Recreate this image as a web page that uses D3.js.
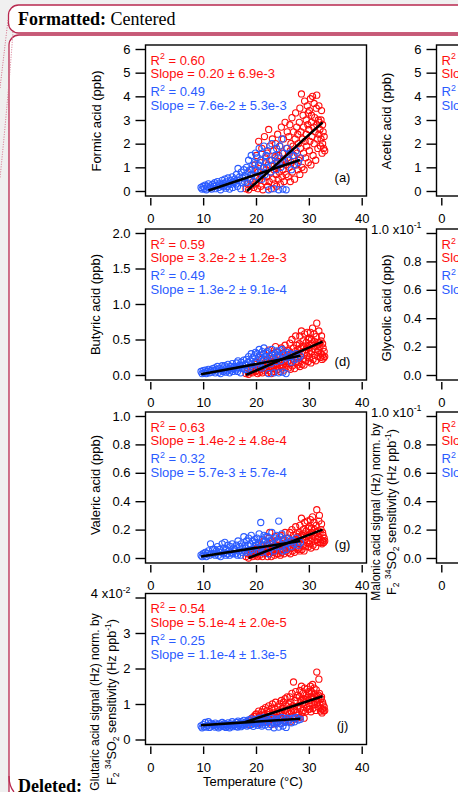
<!DOCTYPE html>
<html><head><meta charset="utf-8">
<script src="https://cdn.jsdelivr.net/npm/d3@7"></script>
<style>html,body{margin:0;padding:0;background:#f0f0f0;overflow:hidden}svg{display:block}</style>
</head><body><svg id="c" width="458" height="792"></svg>
<script>
// ---------------- DATA ----------------
const xTicks = [0, 10, 20, 30, 40];
const xTicksVisibleRightColumn = [0];
// temperatures (°C) of the warm (red) and cool (blue) periods
const tempRed = [
18.1,18.4,18.6,18.9,19.0,19.2,19.4,19.6,19.8,19.9,
20.0,20.1,20.3,20.4,20.5,20.7,20.8,20.9,21.1,21.2,21.3,21.5,21.6,21.7,21.8,21.9,
22.0,22.1,22.2,22.3,22.4,22.5,22.6,22.8,22.9,23.0,23.1,23.2,23.3,23.4,23.5,23.6,23.7,23.8,23.9,23.9,
24.0,24.1,24.2,24.3,24.4,24.5,24.6,24.7,24.8,24.9,25.0,25.1,25.2,25.3,25.4,25.5,25.6,25.7,25.8,25.9,
26.0,26.1,26.2,26.3,26.4,26.5,26.5,26.6,26.7,26.8,26.9,27.0,27.1,27.2,27.3,27.4,27.5,27.6,27.7,27.8,27.9,27.9,
28.0,28.1,28.2,28.3,28.3,28.4,28.5,28.6,28.7,28.8,28.9,29.0,29.0,29.1,29.2,29.3,29.4,29.5,29.5,29.6,29.7,29.8,29.9,29.9,
30.0,30.1,30.1,30.2,30.3,30.4,30.5,30.5,30.6,30.7,30.8,30.9,31.0,31.0,31.1,31.2,31.3,31.4,31.5,31.5,31.6,31.7,31.8,31.9,31.9,32.0,
32.1,32.2,32.3,32.3,32.4,32.5,32.6,32.6,32.7,32.8,32.9,33.0];
const tempBlue = [
9.6,9.8,10.0,10.2,10.4,10.6,10.8,11.0,11.2,11.4,11.6,11.8,
12.0,12.2,12.3,12.5,12.7,12.9,13.1,13.3,13.4,13.6,13.8,13.9,
14.0,14.1,14.3,14.4,14.6,14.7,14.9,15.0,15.2,15.3,15.5,15.6,15.8,15.9,
16.0,16.2,16.3,16.5,16.6,16.8,16.9,17.1,17.2,17.4,17.5,17.7,17.8,17.9,
18.0,18.2,18.3,18.5,18.6,18.8,18.9,19.1,19.2,19.4,19.5,19.7,19.8,19.9,
20.0,20.2,20.3,20.5,20.6,20.8,20.9,21.1,21.2,21.4,21.5,21.7,21.8,21.9,
22.0,22.2,22.4,22.6,22.8,23.0,23.2,23.4,23.6,23.8,23.9,24.0,
24.1,24.3,24.5,24.7,24.9,25.1,25.3,25.5,25.7,25.9,
26.1,26.4,26.7,27.0,27.3,27.6,28.0,28.4];

// (a) Formic acid (ppb)
const formicRed = [
0.1,0.3,0.05,0.5,0.2,0.9,0.4,0.15,1.1,0.6,
0.3,1.5,0.1,0.8,2.1,0.5,1.2,0.2,1.8,0.7,0.05,1.0,2.3,0.4,1.4,0.9,
0.6,1.6,0.2,1.1,2.6,0.4,1.9,0.8,0.1,1.3,2.2,0.5,1.7,0.9,0.3,1.4,2.0,0.7,1.2,0.2,
1.0,2.4,0.5,1.5,0.8,1.9,0.3,1.2,2.7,0.6,1.6,0.9,2.2,0.4,1.3,2.9,1.1,0.7,1.8,2.5,
1.4,0.6,2.3,1.0,2.8,1.7,0.4,2.0,1.2,3.1,0.8,1.9,2.5,1.5,0.5,2.2,3.3,1.1,2.7,1.6,0.9,2.4,
2.0,1.3,2.9,0.7,3.5,1.8,2.5,4.1,1.0,2.2,3.2,1.6,2.7,0.9,3.8,2.1,1.4,3.0,2.4,1.9,3.6,2.8,1.2,3.3,
2.6,1.7,3.4,2.1,3.9,1.1,2.9,3.2,2.3,4.0,1.5,2.7,3.7,2.0,3.1,2.5,1.3,3.5,2.8,4.05,2.2,1.8,3.0,3.6,2.4,2.9,
2.6,1.9,3.0,2.2,3.4,1.6,2.8,2.0,2.5,1.8,2.3,1.7];
const formicBlue = [
0.15,0.08,0.2,0.1,0.25,0.05,0.18,0.3,0.12,0.22,0.08,0.28,
0.2,0.35,0.1,0.25,0.4,0.15,0.3,0.05,0.22,0.45,0.18,0.32,
0.25,0.5,0.12,0.38,0.2,0.55,0.3,0.08,0.45,0.28,0.6,0.15,0.4,0.35,
0.5,0.3,0.7,0.2,0.95,0.45,0.6,0.1,0.8,0.35,0.55,0.9,0.4,0.65,
0.6,1.0,0.35,0.8,1.3,0.5,0.9,1.5,0.7,1.1,0.4,1.2,0.85,1.6,
0.9,1.4,0.6,1.1,1.8,0.8,1.3,0.5,1.6,1.0,1.9,0.7,1.2,1.5,
1.0,1.7,0.05,1.3,0.8,2.0,1.1,0.1,1.5,0.9,1.8,1.2,
1.4,0.05,1.9,1.0,2.2,0.08,1.6,1.2,0.05,1.8,
1.3,1.6,0.9,1.5,1.1,1.7,1.2,1.4];

// (d) Butyric acid (ppb)
const butyricRed = [
0.02,0.06,0.01,0.09,0.04,0.12,0.03,0.08,0.15,0.05,
0.06,0.18,0.02,0.1,0.25,0.04,0.14,0.08,0.22,0.03,0.12,0.3,0.06,0.17,0.1,0.2,
0.08,0.22,0.03,0.15,0.35,0.06,0.26,0.12,0.02,0.19,0.3,0.09,0.24,0.14,0.05,0.2,0.4,0.11,0.17,0.07,
0.15,0.33,0.08,0.21,0.12,0.28,0.05,0.18,0.38,0.1,0.25,0.14,0.31,0.07,0.2,0.42,0.16,0.11,0.27,0.35,
0.2,0.1,0.34,0.16,0.45,0.25,0.08,0.3,0.18,0.5,0.13,0.28,0.38,0.22,0.09,0.33,0.55,0.17,0.42,0.24,0.14,0.36,
0.3,0.18,0.44,0.12,0.55,0.26,0.38,0.62,0.15,0.33,0.48,0.22,0.41,0.14,0.58,0.32,0.2,0.46,0.36,0.27,0.6,0.4,0.19,0.5,
0.38,0.24,0.52,0.3,0.6,0.17,0.44,0.5,0.33,0.66,0.22,0.41,0.58,0.28,0.47,0.36,0.2,0.54,0.42,0.73,0.32,0.26,0.46,0.62,0.35,0.45,
0.4,0.25,0.48,0.3,0.55,0.22,0.44,0.28,0.38,0.24,0.33,0.26];
const butyricBlue = [
0.05,0.02,0.06,0.03,0.07,0.02,0.05,0.08,0.03,0.06,0.04,0.09,
0.06,0.1,0.03,0.08,0.12,0.04,0.09,0.02,0.07,0.13,0.05,0.1,
0.07,0.13,0.04,0.1,0.06,0.15,0.08,0.03,0.12,0.07,0.16,0.05,0.11,0.09,
0.12,0.07,0.17,0.05,0.2,0.1,0.14,0.03,0.18,0.09,0.13,0.21,0.08,0.15,
0.14,0.22,0.08,0.18,0.26,0.11,0.2,0.3,0.15,0.24,0.09,0.27,0.17,0.32,
0.2,0.3,0.12,0.25,0.36,0.16,0.28,0.1,0.33,0.21,0.38,0.14,0.26,0.31,
0.22,0.33,0.02,0.27,0.16,0.36,0.24,0.03,0.3,0.19,0.34,0.25,
0.28,0.03,0.34,0.2,0.36,0.04,0.3,0.24,0.02,0.32,
0.26,0.3,0.18,0.28,0.22,0.3,0.24,0.27];

// (g) Valeric acid (ppb)
const valericRed = [
0.01,0.03,0.0,0.04,0.02,0.05,0.01,0.03,0.06,0.02,
0.03,0.07,0.01,0.05,0.1,0.02,0.06,0.04,0.09,0.01,0.05,0.12,0.03,0.07,0.04,0.08,
0.04,0.09,0.01,0.06,0.14,0.03,0.18,0.05,0.01,0.08,0.12,0.04,0.1,0.06,0.02,0.09,0.15,0.05,0.07,0.03,
0.06,0.13,0.03,0.09,0.05,0.11,0.02,0.08,0.16,0.04,0.1,0.06,0.13,0.03,0.08,0.18,0.07,0.05,0.11,0.14,
0.08,0.04,0.14,0.07,0.18,0.1,0.03,0.12,0.07,0.2,0.05,0.11,0.16,0.09,0.04,0.13,0.22,0.07,0.17,0.1,0.06,0.15,
0.12,0.07,0.18,0.05,0.23,0.1,0.15,0.28,0.06,0.13,0.2,0.09,0.17,0.05,0.25,0.13,0.08,0.19,0.15,0.11,0.26,0.16,0.08,0.21,
0.16,0.1,0.22,0.12,0.27,0.07,0.18,0.21,0.14,0.29,0.09,0.17,0.25,0.12,0.2,0.15,0.08,0.23,0.18,0.34,0.13,0.11,0.19,0.26,0.15,0.3,
0.17,0.11,0.2,0.13,0.24,0.1,0.18,0.12,0.16,0.11,0.14,0.12];
const valericBlue = [
0.02,0.01,0.03,0.02,0.04,0.01,0.03,0.05,0.02,0.1,0.03,0.06,
0.03,0.06,0.02,0.05,0.08,0.02,0.06,0.01,0.04,0.1,0.03,0.07,
0.04,0.11,0.02,0.06,0.03,0.09,0.05,0.02,0.08,0.04,0.1,0.03,0.07,0.05,
0.06,0.03,0.09,0.02,0.12,0.05,0.08,0.02,0.1,0.04,0.07,0.15,0.05,0.09,
0.07,0.12,0.04,0.09,0.14,0.05,0.1,0.16,0.06,0.12,0.04,0.13,0.08,0.11,
0.09,0.14,0.05,0.11,0.17,0.07,0.25,0.04,0.13,0.09,0.16,0.06,0.12,0.15,
0.1,0.15,0.03,0.12,0.07,0.18,0.1,0.05,0.14,0.08,0.16,0.11,
0.12,0.26,0.15,0.08,0.17,0.05,0.13,0.1,0.06,0.14,
0.11,0.13,0.08,0.12,0.1,0.14,0.09,0.11];

// (j) Glutaric acid signal norm. (units of 1e-2)
const glutaricRed = [
0.45,0.5,0.42,0.55,0.48,0.6,0.5,0.65,0.55,0.7,
0.5,0.72,0.45,0.6,0.8,0.52,0.68,0.47,0.78,0.58,0.85,0.5,0.7,0.62,0.9,0.55,
0.6,0.82,0.48,0.7,0.95,0.55,0.78,0.65,0.42,0.88,1.0,0.58,0.75,0.68,0.45,0.85,1.05,0.62,0.72,0.5,
0.7,0.92,0.5,0.8,0.62,1.0,0.45,0.75,1.1,0.58,0.88,0.68,1.05,0.52,0.82,1.15,0.72,0.6,0.95,1.2,
0.8,0.55,1.0,0.72,1.2,0.9,0.5,1.05,0.78,1.3,0.65,0.95,1.62,0.85,0.58,1.1,1.35,0.75,1.18,0.92,0.68,1.25,
0.95,0.7,1.2,0.62,1.38,0.88,1.1,1.5,0.75,1.0,1.3,0.82,1.15,0.6,1.45,1.05,0.78,1.25,1.12,0.9,1.42,1.2,0.85,1.35,
1.1,0.85,1.3,0.95,1.5,0.78,1.2,1.35,1.02,1.55,0.88,1.15,1.45,0.98,1.28,1.08,0.82,1.4,1.22,1.9,1.05,0.92,1.25,1.7,1.12,1.3,
1.0,0.8,1.15,0.88,1.2,0.75,1.05,0.85,0.98,0.8,0.92,0.82];
const glutaricBlue = [
0.38,0.33,0.42,0.36,0.48,0.35,0.4,0.5,0.34,0.45,0.38,0.43,
0.4,0.35,0.46,0.38,0.42,0.33,0.44,0.36,0.4,0.48,0.37,0.43,
0.38,0.45,0.34,0.42,0.37,0.47,0.4,0.33,0.44,0.39,0.5,0.36,0.43,0.41,
0.42,0.37,0.48,0.35,0.52,0.4,0.45,0.36,0.5,0.39,0.44,0.54,0.41,0.47,
0.44,0.5,0.38,0.47,0.55,0.4,0.48,0.58,0.42,0.52,0.37,0.5,0.45,0.56,
0.46,0.53,0.4,0.5,0.6,0.43,0.55,0.38,0.52,0.47,0.62,0.41,0.49,0.57,
0.48,0.56,0.36,0.52,0.42,0.6,0.47,0.33,0.55,0.44,0.58,0.5,
0.5,0.35,0.58,0.45,0.62,0.38,0.54,0.48,0.34,0.6,
0.52,0.58,0.47,0.6,0.5,0.62,0.55,0.57];

// linear fits: [start, end] as [temperature, value]
const fitFormicRed = [[18.3, 0.0], [32.6, 2.9]];
const fitFormicBlue = [[11.0, 0.02], [28.3, 1.31]];
const fitButyricRed = [[18.1, 0.0], [32.6, 0.47]];
const fitButyricBlue = [[9.6, 0.01], [28.4, 0.27]];
const fitValericRed = [[18.6, 0.0], [32.6, 0.2]];
const fitValericBlue = [[9.6, 0.01], [28.4, 0.12]];
const fitGlutaricRed = [[18.0, 0.49], [32.6, 1.22]];
const fitGlutaricBlue = [[9.6, 0.40], [28.4, 0.585]];

const r2Red = ["0.60", "0.59", "0.63", "0.54"];
const slopeRed = ["0.20 ± 6.9e-3", "3.2e-2 ± 1.2e-3", "1.4e-2 ± 4.8e-4", "5.1e-4 ± 2.0e-5"];
const r2Blue = ["0.49", "0.49", "0.32", "0.25"];
const slopeBlue = ["7.6e-2 ± 5.3e-3", "1.3e-2 ± 9.1e-4", "5.7e-3 ± 5.7e-4", "1.1e-4 ± 1.3e-5"];
const panelLetters = ["(a)", "(d)", "(g)", "(j)"];

const ticksPpb6 = [0, 1, 2, 3, 4, 5, 6];
const ticksPpb2 = [0, 0.5, 1.0, 1.5, 2.0];
const ticksPpb1 = [0, 0.2, 0.4, 0.6, 0.8, 1.0];
const ticksGlut = [0, 1, 2, 3, 4];

// ---------------- DRAWING ----------------
const FONT = "'Liberation Sans', Arial, Helvetica, sans-serif";
const SERIF = "'Liberation Serif', 'Times New Roman', serif";
const RED = "#ff0d0d", BLUE = "#2b5bff", CRIMSON = "#b8294f";
const svg = d3.select("#c");

// Word balloons
svg.append("rect").attr("x", 0).attr("y", 0).attr("width", 458).attr("height", 792).attr("fill", "#f0f0f0");
svg.append("rect").attr("x", 8.5).attr("y", 5).attr("width", 600).attr("height", 28).attr("rx", 10)
  .attr("fill", "#fff").attr("stroke", CRIMSON).attr("stroke-width", 1.3);
svg.append("rect").attr("x", 9).attr("y", 35).attr("width", 600).attr("height", 900).attr("rx", 10)
  .attr("fill", "#fff").attr("stroke", CRIMSON).attr("stroke-width", 1.3);
svg.append("path").attr("d", "M8,20 L0,88").attr("stroke", "#d46a85").attr("stroke-dasharray", "1,1.5").attr("fill", "none");
svg.append("path").attr("d", "M13,32 Q8,100 0,178").attr("stroke", "#d46a85").attr("stroke-dasharray", "1,1.5").attr("fill", "none");
svg.append("path").attr("d", "M9,776 Q9,786 14,792").attr("stroke", CRIMSON).attr("stroke-width", 1.3).attr("fill", "none");
const ft = svg.append("text").attr("x", 18).attr("y", 25).attr("font-family", SERIF).attr("font-size", 18);
ft.append("tspan").attr("font-weight", "bold").text("Formatted:");
ft.append("tspan").text(" Centered");

function rich(sel, segs, size) {
  let cur = 0;
  segs.forEach(([t, k]) => {
    const target = k === 1 ? -size * 0.4 : k === -1 ? size * 0.25 : 0;
    sel.append("tspan").attr("dy", target - cur).attr("font-size", k ? size * 0.68 : size).text(t);
    cur = target;
  });
}

const colDx = 291;
const sensLine = [["F", 0], ["2", -1], [" ", 0], ["34", 1], ["SO", 0], ["2", -1], [" sensitivity (Hz ppb", 0], ["-1", 1], [")", 0]];
const panels = [
  {col: 0, top: 45, dom: [0, 6], ticks: ticksPpb6, fmt: d3.format("d"), ylab: [[["Formic acid (ppb)", 0]]], labX: [101], labY: 121, labSize: [13],
   red: formicRed, blue: formicBlue, fr: fitFormicRed, fb: fitFormicBlue, i: 0},
  {col: 0, top: 229, dom: [0, 2], ticks: ticksPpb2, fmt: d3.format(".1f"), ylab: [[["Butyric acid (ppb)", 0]]], labX: [99.5], labY: 304.5, labSize: [13],
   red: butyricRed, blue: butyricBlue, fr: fitButyricRed, fb: fitButyricBlue, i: 1},
  {col: 0, top: 412, dom: [0, 1], ticks: ticksPpb1, fmt: d3.format(".1f"), ylab: [[["Valeric acid (ppb)", 0]]], labX: [99.5], labY: 485, labSize: [13],
   red: valericRed, blue: valericBlue, fr: fitValericRed, fb: fitValericBlue, i: 2},
  {col: 0, top: 593.5, dom: [0, 4], ticks: ticksGlut, fmt: d3.format("d"), topSuffix: "-2",
   ylab: [[["Glutaric acid signal (Hz) norm. by", 0]], sensLine],
   labX: [99.3, 116.3], labY: 702, labSize: [12, 12.6], red: glutaricRed, blue: glutaricBlue, fr: fitGlutaricRed, fb: fitGlutaricBlue, i: 3, xTitle: true},
  {col: 1, top: 45, dom: [0, 6], ticks: ticksPpb6, fmt: d3.format("d"), ylab: [[["Acetic acid (ppb)", 0]]], labX: [391.3], labY: 121, labSize: [13]},
  {col: 1, top: 229, dom: [0, 1], ticks: ticksPpb1, fmt: d3.format(".1f"), topSuffix: "-1", ylab: [[["Glycolic acid (ppb)", 0]]], labX: [391.3], labY: 308, labSize: [13]},
  {col: 1, top: 412, dom: [0, 1], ticks: ticksPpb1, fmt: d3.format(".1f"), topSuffix: "-1",
   ylab: [[["Malonic acid signal (Hz) norm. by", 0]], sensLine],
   labX: [379.6, 396.3], labY: 512, labSize: [12, 12.6]}
];

panels.forEach(p => {
  const dx = p.col * colDx;
  const L = 145.5 + dx, R = 366.5 + dx, T = p.top, B = p.top + 151;
  const x = d3.scaleLinear().domain([0, 40]).range([150.3 + dx, 361.7 + dx]);
  const y = d3.scaleLinear().domain(p.dom).range([B - 5, T + 4]);
  const g = svg.append("g");

  // y axis
  const ya = g.append("g").attr("transform", `translate(${L},0)`)
    .call(d3.axisLeft(y).tickValues(p.ticks).tickSize(10).tickPadding(5).tickFormat(p.fmt));
  ya.select(".domain").remove();
  ya.selectAll("line").attr("stroke", "#000").attr("stroke-width", 1.4);
  ya.selectAll("text").attr("font-family", FONT).attr("font-size", 13).attr("fill", "#000");
  if (p.topSuffix) {
    const last = ya.selectAll(".tick").filter(d => d === p.dom[1]).select("text");
    const base = last.text();
    last.text("");
    rich(last, [[base + " x10", 0], [p.topSuffix, 1]], 13);
  }
  // x axis (ticks hanging below frame); right column is cut by the page edge
  const xa = g.append("g").attr("transform", `translate(0,${B + 2})`)
    .call(d3.axisBottom(x).tickValues(p.col ? xTicksVisibleRightColumn : xTicks).tickSize(7.5).tickPadding(8.5).tickFormat(d3.format("d")));
  xa.select(".domain").remove();
  xa.selectAll("line").attr("stroke", "#000").attr("stroke-width", 1.4);
  xa.selectAll("text").attr("font-family", FONT).attr("font-size", 13).attr("fill", "#000");

  // data
  if (p.red) {
    g.append("g").selectAll("circle").data(d3.zip(tempRed, p.red)).join("circle")
      .attr("cx", d => x(d[0])).attr("cy", d => y(d[1])).attr("r", 3.1)
      .attr("fill", "none").attr("stroke", RED).attr("stroke-width", 1.1);
    g.append("g").selectAll("circle").data(d3.zip(tempBlue, p.blue)).join("circle")
      .attr("cx", d => x(d[0])).attr("cy", d => y(d[1])).attr("r", 3.1)
      .attr("fill", "none").attr("stroke", BLUE).attr("stroke-width", 1.1);
    const line = d3.line().x(d => x(d[0])).y(d => y(d[1]));
    [p.fb, p.fr].forEach(f => g.append("path").attr("d", line(f)).attr("stroke", "#000")
      .attr("stroke-width", 2.6).attr("fill", "none").attr("stroke-linecap", "butt"));
  }

  // frame
  g.append("rect").attr("x", L).attr("y", T).attr("width", R - L).attr("height", B - T)
    .attr("fill", "none").attr("stroke", "#000").attr("stroke-width", 1.4);

  // annotations
  const ax = L + 5;
  const mk = (yy, col) => g.append("text").attr("x", ax).attr("y", T + yy).attr("fill", col)
    .attr("font-family", FONT).attr("font-size", 13);
  if (p.red) {
    rich(mk(19.7, RED), [["R", 0], ["2", 1], [" = " + r2Red[p.i], 0]], 13);
    mk(33.4, RED).text("Slope = " + slopeRed[p.i]);
    rich(mk(51.2, BLUE), [["R", 0], ["2", 1], [" = " + r2Blue[p.i], 0]], 13);
    mk(65, BLUE).text("Slope = " + slopeBlue[p.i]);
    g.append("text").attr("x", 342.5 + dx).attr("y", B - 14.4).attr("text-anchor", "middle")
      .attr("font-family", FONT).attr("font-size", 13).text(panelLetters[p.i]);
  } else {
    rich(mk(19.7, RED), [["R", 0], ["2", 1]], 13);
    mk(33.4, RED).text("Slo");
    rich(mk(51.2, BLUE), [["R", 0], ["2", 1]], 13);
    mk(65, BLUE).text("Slo");
  }

  // y label(s)
  p.ylab.forEach((segs, k) => {
    const t = g.append("text").attr("transform", `translate(${p.labX[k]},${p.labY}) rotate(-90)`)
      .attr("text-anchor", "middle").attr("font-family", FONT).attr("font-size", p.labSize[k]);
    rich(t, segs, p.labSize[k]);
  });
  if (p.xTitle) {
    g.append("text").attr("x", 253).attr("y", 786).attr("text-anchor", "middle")
      .attr("font-family", FONT).attr("font-size", 13).text("Temperature (°C)");
  }
});

svg.append("text").attr("x", 18).attr("y", 792).attr("font-family", SERIF).attr("font-size", 18)
  .attr("font-weight", "bold").text("Deleted:");
</script></body></html>
